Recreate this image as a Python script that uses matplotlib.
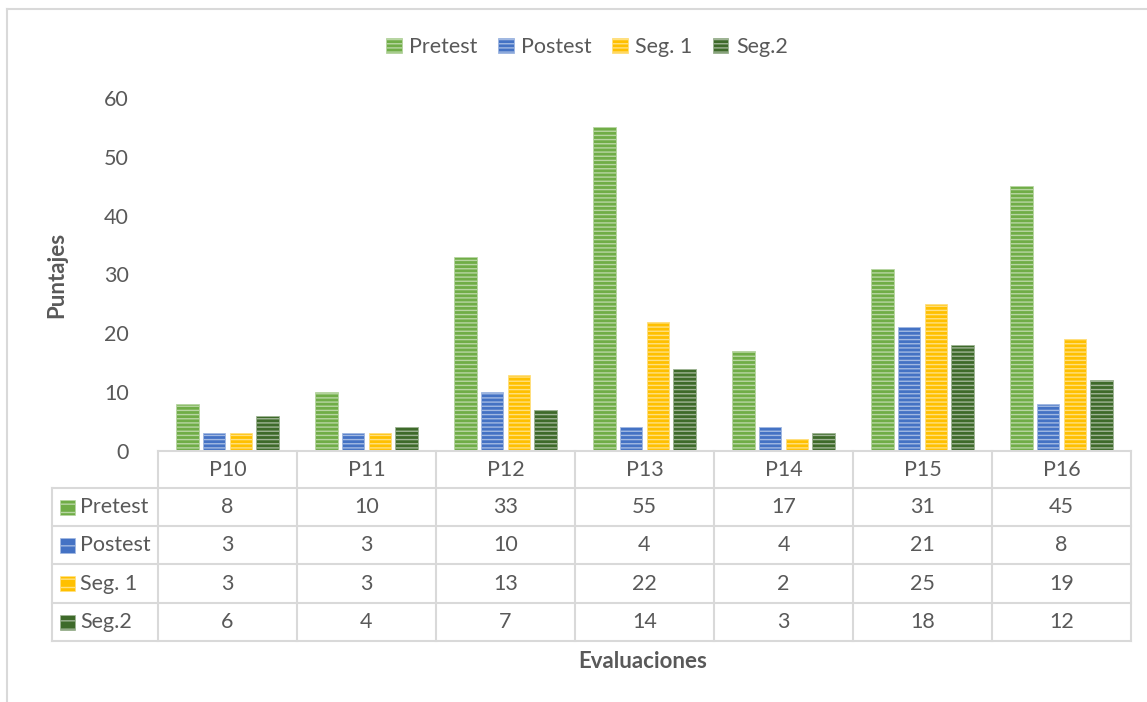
import matplotlib
matplotlib.use("Agg")
import matplotlib.pyplot as plt
from matplotlib.lines import Line2D
from matplotlib.patches import Rectangle
from matplotlib.transforms import blended_transform_factory
import numpy as np

# Data
categories = ["P10", "P11", "P12", "P13", "P14", "P15", "P16"]
series_names = ["Pretest", "Postest", "Seg. 1", "Seg.2"]
pretest = [8, 10, 33, 55, 17, 31, 45]
postest = [3, 3, 10, 4, 4, 21, 8]
seg1 = [3, 3, 13, 22, 2, 25, 19]
seg2 = [6, 4, 7, 14, 3, 18, 12]
y_ticks = [0, 10, 20, 30, 40, 50, 60]

series_values = [pretest, postest, seg1, seg2]
colors = ["#70AD47", "#4472C4", "#FFC000", "#3E6A2A"]

TEXT = "#595959"
GRID = "#D9D9D9"
FONT = "Lato"
FS = 15.5

plt.rcParams["font.family"] = [FONT, "DejaVu Sans"]
plt.rcParams["hatch.linewidth"] = 1.0

W, H = 1147, 702
fig = plt.figure(figsize=(W / 100, H / 100), dpi=100)


def fx(px):
    return px / W


def fy(py):
    return 1 - py / H


def lighten(c, amt):
    rgb = np.array(matplotlib.colors.to_rgb(c))
    return tuple(rgb + (1 - rgb) * amt)


HATCH = "----"

# Plot area
ax_l, ax_r, ax_t, ax_b = 158, 1131, 98, 451
ax = fig.add_axes([fx(ax_l), fy(ax_b), fx(ax_r) - fx(ax_l), fy(ax_t) - fy(ax_b)])

x = np.arange(len(categories))
bar_w = 0.162
step = 0.192
for i, (name, vals, col) in enumerate(zip(series_names, series_values, colors)):
    ax.bar(x + (i - 1.5) * step, vals, width=bar_w, color=col,
           edgecolor=lighten(col, 0.5), linewidth=0.6, hatch=HATCH,
           label=name, zorder=2)

ax.set_xlim(-0.5, len(categories) - 0.5)
ax.set_ylim(0, 60)
ax.set_yticks(y_ticks)
ax.set_yticklabels([str(t) for t in y_ticks])
ax.tick_params(axis="y", length=0, pad=21, labelsize=FS, labelcolor=TEXT)
ax.tick_params(axis="x", length=0, labelbottom=False)
for side in ["left", "right", "top"]:
    ax.spines[side].set_visible(False)
ax.spines["bottom"].set_color(GRID)
ax.spines["bottom"].set_linewidth(1.5)
ax.patch.set_alpha(0)

# Data table below the axis
tr = blended_transform_factory(ax.transData, fig.transFigure)
row_edges = [451, 488, 526, 564, 603, 641]
label_left = 52
col_edges = np.arange(len(categories) + 1) - 0.5

# vertical lines of the category columns
for ce in col_edges:
    fig.add_artist(Line2D([ce, ce], [fy(row_edges[0]), fy(row_edges[-1])],
                          transform=tr, color=GRID, lw=1.5, clip_on=False))
# vertical line at the left of the label column
fig.add_artist(Line2D([fx(label_left), fx(label_left)], [fy(row_edges[1]), fy(row_edges[-1])],
                      transform=fig.transFigure, color=GRID, lw=1.5))
# horizontal lines
for re in row_edges[1:]:
    fig.add_artist(Line2D([fx(label_left), fx(ax_r)], [fy(re), fy(re)],
                          transform=fig.transFigure, color=GRID, lw=1.5))

# header row with category names
hy = fy((row_edges[0] + row_edges[1]) / 2)
for xi, cat in zip(x, categories):
    fig.text(xi, hy, cat, transform=tr, ha="center", va="center",
             fontsize=FS, color=TEXT)

# value rows with legend keys
for r, (name, vals, col) in enumerate(zip(series_names, series_values, colors)):
    cy = (row_edges[r + 1] + row_edges[r + 2]) / 2
    sw = 15
    fig.add_artist(Rectangle((fx(60), fy(cy + sw / 2)), fx(sw), fy(0) - fy(sw),
                             transform=fig.transFigure, facecolor=col,
                             edgecolor=lighten(col, 0.5), linewidth=0.5, hatch="--"))
    fig.text(fx(80), fy(cy), name, ha="left", va="center", fontsize=FS, color=TEXT)
    for xi, v in zip(x, vals):
        fig.text(xi, fy(cy), str(v), transform=tr, ha="center", va="center",
                 fontsize=FS, color=TEXT)

# Axis titles
fig.text(fx(57), fy(275), "Puntajes", rotation=90, ha="center", va="center",
         fontsize=16, fontweight="bold", color=TEXT)
fig.text(fx(643), fy(661), "Evaluaciones", ha="center", va="center",
         fontsize=16, fontweight="bold", color=TEXT)

# Legend
fig.legend(loc="center", bbox_to_anchor=(fx(587), fy(47)), ncol=4, frameon=False,
           fontsize=FS, labelcolor=TEXT, handlelength=0.72, handleheight=0.72,
           handletextpad=0.35, columnspacing=0.95)

# Chart area border
fig.add_artist(Line2D([fx(7), fx(W)], [fy(9), fy(9)], transform=fig.transFigure,
                      color=GRID, lw=1.5))
fig.add_artist(Line2D([fx(7), fx(7)], [fy(9), fy(H)], transform=fig.transFigure,
                      color=GRID, lw=1.5))

fig.savefig("out.png", dpi=100)
